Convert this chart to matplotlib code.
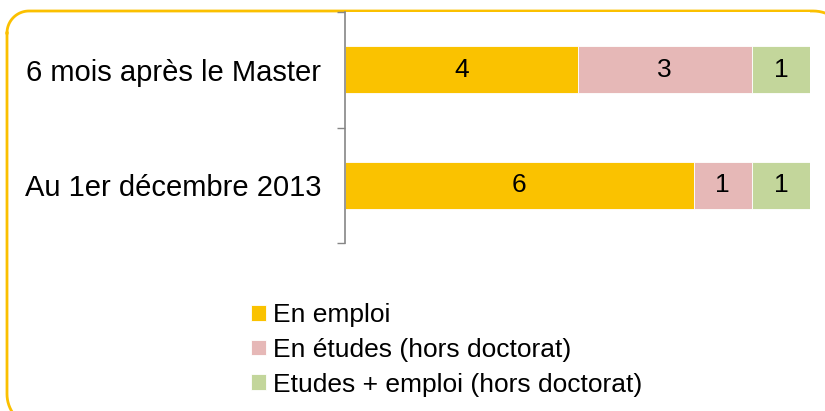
import numpy as np
import matplotlib.pyplot as plt

plt.rcParams['font.family'] = ['Liberation Sans', 'DejaVu Sans']

categories = ['6 mois après le Master', 'Au 1er décembre 2013']
series = ['En emploi', 'En études (hors doctorat)', 'Etudes + emploi (hors doctorat)']
values = [
    [4, 6],
    [3, 1],
    [1, 1],
]
colors = ['#FAC200', '#E6B8B7', '#C3D69B']

W, H = 825, 411
fig = plt.figure(figsize=(W / 100, H / 100), dpi=100)


def rounded_rect(x0, y0, x1, y1, radii, n=20):
    # corners clockwise from top-left, pixel coords with y pointing down
    r_tl, r_tr, r_br, r_bl = radii
    corners = [(x0 + r_tl, y0 + r_tl, r_tl, np.pi, 1.5 * np.pi),
               (x1 - r_tr, y0 + r_tr, r_tr, 1.5 * np.pi, 2 * np.pi),
               (x1 - r_br, y1 - r_br, r_br, 0, 0.5 * np.pi),
               (x0 + r_bl, y1 - r_bl, r_bl, 0.5 * np.pi, np.pi)]
    pts = []
    for cx, cy, r, a0, a1 in corners:
        t = np.linspace(a0, a1, n)
        pts.append(np.column_stack([cx + r * np.cos(t), cy + r * np.sin(t)]))
    pts = np.vstack(pts + [pts[0][:1]])
    return pts[:, 0], pts[:, 1]


# background axes in pixel units, for the rounded frame
bg = fig.add_axes([0, 0, 1, 1], zorder=-1)
bg.set_xlim(0, W)
bg.set_ylim(H, 0)
bg.axis('off')
fx, fy = rounded_rect(7, 11, 850, 428, (22, 37, 30, 34))
bg.plot(fx, fy, color='#FBC000', lw=2, solid_joinstyle='round')

ax = fig.add_axes([345 / W, 1 - 243 / H, 465 / W, 231 / H])

ypos = [1, 0]
left = [0, 0]
for s, vals, c in zip(series, values, colors):
    bars = ax.barh(ypos, vals, left=left, height=0.41, color=c,
                   edgecolor='white', linewidth=0.6, label=s)
    ax.bar_label(bars, labels=[str(v) for v in vals], label_type='center',
                 fontsize=19)
    left = [l + v for l, v in zip(left, vals)]

ax.set_xlim(0, 8)
ax.set_ylim(-0.5, 1.5)
ax.set_yticks(ypos)
ax.set_yticklabels(categories, fontsize=21)
ax.set_yticks([-0.5, 0.5, 1.5], minor=True)
ax.tick_params(axis='y', which='major', length=0, pad=17)
ax.tick_params(axis='y', which='minor', length=6, width=1, color='#868686')
ax.set_xticks([])
for side in ['top', 'right', 'bottom']:
    ax.spines[side].set_visible(False)
ax.spines['left'].set_color('#868686')
ax.spines['left'].set_linewidth(1.2)

fig.legend(loc='upper left', bbox_to_anchor=(251 / W, 1 - 303 / H),
           frameon=False, fontsize=19, handlelength=0.55, handleheight=0.55,
           handletextpad=0.3, labelspacing=0.41, borderpad=0,
           borderaxespad=0)

fig.savefig('out.png', dpi=100)
